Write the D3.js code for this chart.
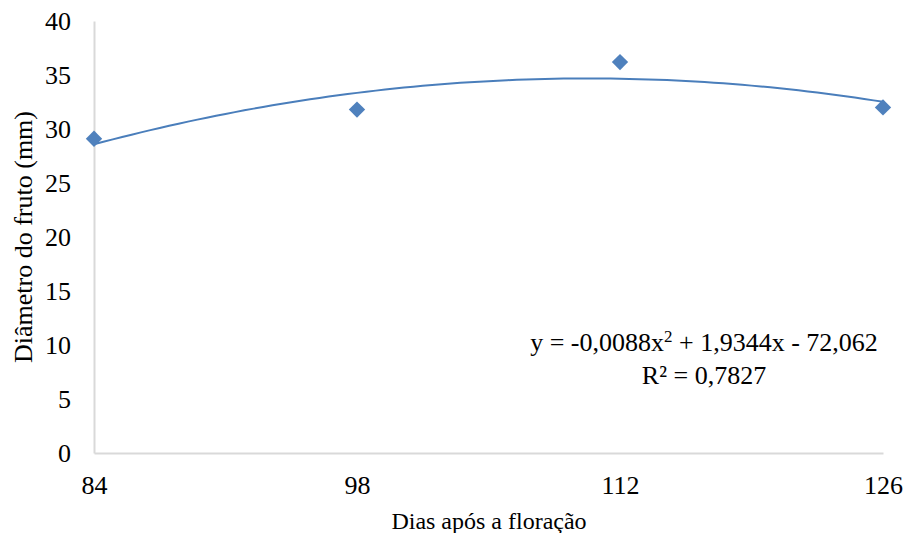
<!DOCTYPE html>
<html>
<head>
<meta charset="utf-8">
<script src="https://cdn.jsdelivr.net/npm/d3@7"></script>
<style>
  body { margin: 0; background: #fff; }
  svg text { font-family: "Liberation Serif", "Times New Roman", serif; fill: #000; }
</style>
</head>
<body>
<div id="chart"></div>
<script>
// data
const days = [84, 98, 112, 126];
const diameter = [29.1, 31.8, 36.2, 32.0];
const yTicks = [0, 5, 10, 15, 20, 25, 30, 35, 40];
const equation = "y = -0,0088x";
const equationRest = " + 1,9344x - 72,062";
const rSquared = "R² = 0,7827";

const width = 907, height = 533;
const margin = {top: 21, right: 24, bottom: 80, left: 94};
const serif = "'Liberation Serif', 'Times New Roman', serif";

const svg = d3.select("#chart").append("svg")
  .attr("width", width)
  .attr("height", height);

const x = d3.scaleLinear()
  .domain([84, 126])
  .range([margin.left, width - margin.right]);

const y = d3.scaleLinear()
  .domain([0, 40])
  .range([height - margin.bottom, margin.top]);

// axes
svg.append("g")
  .attr("transform", `translate(0,${y(0)})`)
  .attr("font-family", serif)
  .call(d3.axisBottom(x).tickValues(days).tickSize(0).tickPadding(23))
  .call(g => g.select(".domain").attr("stroke", "#d9d9d9").attr("stroke-width", 2))
  .selectAll("text")
    .style("font-family", serif)
    .style("font-size", "26px")
    .attr("fill", "#000");

svg.append("g")
  .attr("transform", `translate(${x(84)},0)`)
  .attr("font-family", serif)
  .call(d3.axisLeft(y).tickValues(yTicks).tickSize(0).tickPadding(23))
  .call(g => g.select(".domain").attr("stroke", "#d9d9d9").attr("stroke-width", 2))
  .selectAll("text")
    .style("font-family", serif)
    .style("font-size", "26px")
    .attr("fill", "#000");

// polynomial trend line (least squares, order 2)
function quadFit(xs, ys) {
  let S = [0, 0, 0, 0, 0], T = [0, 0, 0];
  xs.forEach((xv, i) => {
    for (let k = 0; k < 5; k++) S[k] += Math.pow(xv, k);
    for (let k = 0; k < 3; k++) T[k] += Math.pow(xv, k) * ys[i];
  });
  const M = [[S[0], S[1], S[2], T[0]], [S[1], S[2], S[3], T[1]], [S[2], S[3], S[4], T[2]]];
  for (let i = 0; i < 3; i++) {
    for (let j = i + 1; j < 3; j++) {
      const f = M[j][i] / M[i][i];
      for (let k = i; k < 4; k++) M[j][k] -= f * M[i][k];
    }
  }
  const c = [0, 0, 0];
  for (let i = 2; i >= 0; i--) {
    let s = M[i][3];
    for (let k = i + 1; k < 3; k++) s -= M[i][k] * c[k];
    c[i] = s / M[i][i];
  }
  return c;
}
const coef = quadFit(days, diameter);
const trend = d3.range(84, 126.01, 0.5).map(d => [d, coef[0] + coef[1] * d + coef[2] * d * d]);

svg.append("path")
  .datum(trend)
  .attr("fill", "none")
  .attr("stroke", "#4a7ebb")
  .attr("stroke-width", 2)
  .attr("d", d3.line().x(d => x(d[0])).y(d => y(d[1])));

// markers
svg.selectAll("path.pt")
  .data(days)
  .join("path")
    .attr("class", "pt")
    .attr("d", d3.symbol(d3.symbolDiamond2, 170))
    .attr("transform", (d, i) => `translate(${x(d)},${y(diameter[i])})`)
    .attr("fill", "#4f81bd");

// equation
const eq = svg.append("text")
  .attr("x", 704)
  .attr("y", 351)
  .attr("text-anchor", "middle")
  .style("font-family", serif)
  .style("font-size", "26px");
eq.append("tspan").text(equation);
eq.append("tspan").attr("dy", -9).style("font-size", "17px").text("2");
eq.append("tspan").attr("dy", 9).text(equationRest);

svg.append("text")
  .attr("x", 704)
  .attr("y", 384)
  .attr("text-anchor", "middle")
  .style("font-family", serif)
  .style("font-size", "26px")
  .text(rSquared);

// axis titles
svg.append("text")
  .attr("transform", `translate(32,237) rotate(-90)`)
  .attr("text-anchor", "middle")
  .style("font-family", serif)
  .style("font-size", "26px")
  .text("Diâmetro do fruto (mm)");

svg.append("text")
  .attr("x", 489)
  .attr("y", 529)
  .attr("text-anchor", "middle")
  .style("font-family", serif)
  .style("font-size", "24px")
  .text("Dias após a floração");
</script>
</body>
</html>
